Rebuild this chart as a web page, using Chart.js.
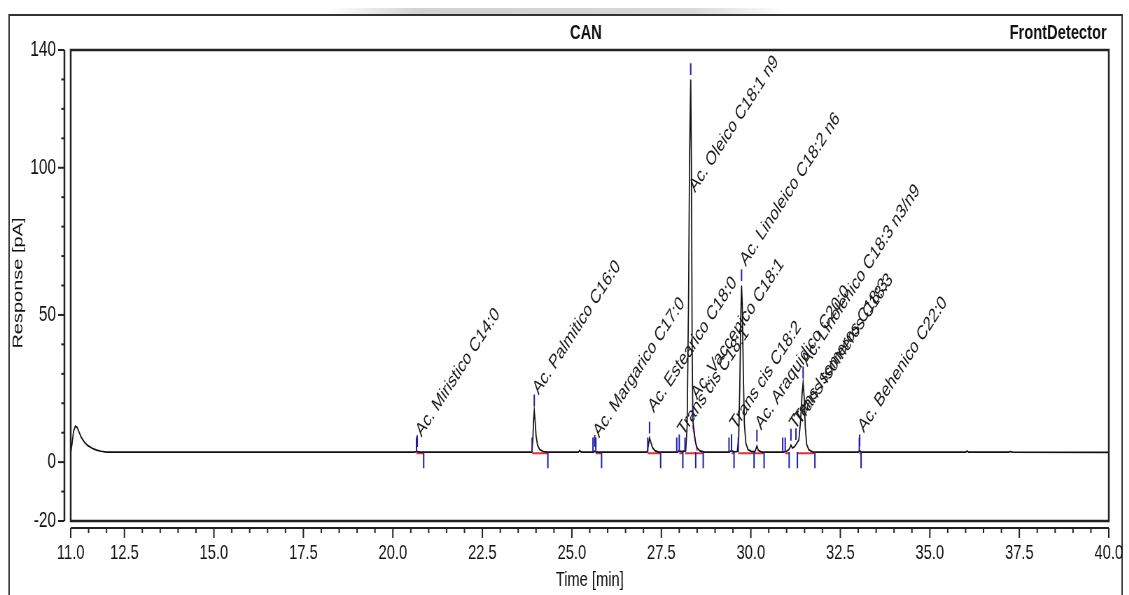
<!DOCTYPE html>
<html>
<head>
<meta charset="utf-8">
<script src="https://cdn.jsdelivr.net/npm/chart.js@4/dist/chart.umd.min.js"></script>
<style>
  html, body { margin: 0; padding: 0; background: #fff; overflow: hidden; }
  /* the original screenshot is squeezed horizontally, so draw wide and squeeze */
  #wrap { width: 1650px; height: 595px; transform: scaleX(0.7); transform-origin: 0 0; }
</style>
</head>
<body>
<div id="wrap"><canvas id="chart"></canvas></div>
<script>
// chromatogram trace (time in min, response in pA)
const traceTime = [11.00, 11.04, 11.08, 11.13, 11.18, 11.24, 11.30, 11.38, 11.48, 11.60, 11.72, 11.85, 12.00,
  20.60, 20.68, 20.76, 23.88, 23.91, 23.93, 23.95, 23.97, 24.00, 24.04, 24.10, 24.20, 24.30,
  25.18, 25.22, 25.26, 25.60, 25.64, 25.68, 27.10, 27.14, 27.17, 27.20, 27.25, 27.32, 27.42,
  27.95, 28.00, 28.05, 28.18, 28.22, 28.26, 28.29, 28.32, 28.34, 28.36, 28.38, 28.41, 28.45, 28.50, 28.58, 28.70,
  29.40, 29.46, 29.52, 29.62, 29.66, 29.69, 29.72, 29.74, 29.76, 29.79, 29.82, 29.86, 29.92, 30.02,
  30.12, 30.17, 30.21, 30.30, 30.90, 31.00, 31.08, 31.12, 31.16, 31.22, 31.26, 31.34, 31.39, 31.43, 31.46,
  31.49, 31.52, 31.56, 31.62, 31.72, 31.85, 33.00, 33.04, 33.08, 36.00, 36.04, 36.08, 37.20, 37.25, 37.30, 40.00];
const traceResp = [3.2, 6.5, 10.5, 12.2, 11.8, 10.0, 8.3, 6.8, 5.6, 4.7, 4.1, 3.7, 3.4,
  3.4, 3.6, 3.4, 3.4, 7.5, 14.0, 17.5, 14.5, 9.0, 5.8, 4.3, 3.6, 3.4,
  3.4, 3.9, 3.4, 3.4, 3.7, 3.4, 3.4, 6.0, 8.2, 7.0, 5.0, 3.9, 3.4,
  3.4, 3.9, 3.6, 3.8, 12, 55, 105, 130, 100, 40, 14, 11, 7, 4.8, 3.8, 3.4,
  3.4, 4.0, 3.5, 3.6, 8, 25, 50, 60, 54, 30, 13, 6.5, 4.3, 3.6,
  3.7, 5.5, 4.0, 3.4, 3.4, 3.7, 4.5, 5.8, 4.8, 5.2, 6.0, 7.5, 14, 23, 27,
  22, 12, 6, 4.2, 3.5, 3.4, 3.4, 3.9, 3.4, 3.4, 3.8, 3.4, 3.4, 3.6, 3.4, 3.3];

// identified peaks
const peakNames = ['Ac. Miristico C14:0', 'Ac. Palmitico C16:0', 'Ac. Margarico C17:0', 'Ac. Estearico C18:0',
  'Trans cis C18:1', 'Ac. Oleico C18:1 n9', 'Ac. Vaccenico C18:1', 'Trans cis C18:2', 'Ac. Linoleico C18:2 n6',
  'Ac. Araquidico C20:0', 'Trans Isomeros C18:3', 'Trans Isomeros C18:3', 'Ac. Linolenico C18:3 n3/n9', 'Ac. Behenico C22:0'];
const peakTime = [20.68, 23.95, 25.64, 27.17, 28.00, 28.32, 28.38, 29.46, 29.74, 30.17, 31.12, 31.26, 31.46, 33.04];
const peakResp = [3.6, 17.5, 3.7, 8.2, 3.9, 130, 13.8, 4.0, 60, 5.5, 5.8, 6.0, 27, 3.9];
const labelResp = [8.3, 22.6, 8.0, 16.5, 8.7, 91.3, 20.9, 10.7, 66.3, 10.7, 10.7, 12.4, 32.2, 9.7];

// peak delimiters and baselines
const baseLevel = 3.4;
const upMarks = [20.66, 23.89, 25.59, 25.67, 27.12, 27.93, 28.00, 28.16, 29.39, 29.46, 29.65, 30.89, 30.96, 33.03];
const downMarks = [20.86, 24.33, 25.83, 27.48, 28.10, 28.46, 28.67, 29.53, 30.09, 30.37, 31.07, 31.30, 31.79, 33.08];
const baseFrom = [20.66, 23.89, 25.67, 27.12, 28.00, 28.16, 29.46, 29.65, 30.09, 30.96, 31.30, 33.03];
const baseTo = [20.86, 24.33, 25.83, 27.48, 28.10, 28.67, 29.53, 30.09, 30.37, 31.07, 31.79, 33.08];
const skimTime = [28.37, 28.50];
const skimResp = [12.5, 3.8];

// axis labels
const xLabelTicks = [11.0, 12.5, 15.0, 17.5, 20.0, 22.5, 25.0, 27.5, 30.0, 32.5, 35.0, 37.5, 40.0];
const yLabelTicks = [140, 100, 50, 0, -20];

const FONT = "'Liberation Sans', Arial, sans-serif";
Chart.defaults.font.family = FONT;
Chart.defaults.color = '#111';

const xy = (xs, ys) => xs.map((x, i) => ({ x: x, y: ys[i] }));

function marks(times, from, to) {
    const pts = [];
    times.forEach((t, i) => {
        const a = typeof from === 'function' ? from(i) : from;
        const b = typeof to === 'function' ? to(i) : to;
        pts.push({ x: t, y: a }, { x: t, y: b }, { x: t, y: null });
    });
    return pts;
}

function segments(froms, tos, level) {
    const pts = [];
    froms.forEach((f, i) => {
        pts.push({ x: f, y: level }, { x: tos[i], y: level }, { x: tos[i], y: null });
    });
    return pts;
}

const framePlugin = {
    id: 'frame',
    beforeDraw(chart) {
        const { ctx, width, height } = chart;
        ctx.save();
        ctx.fillStyle = '#fff';
        ctx.fillRect(0, 0, width, height);
        // faint grey strip above the frame
        const g = ctx.createLinearGradient(470, 0, 1120, 0);
        g.addColorStop(0, 'rgba(190,190,190,0)');
        g.addColorStop(0.2, 'rgba(190,190,190,0.7)');
        g.addColorStop(0.8, 'rgba(200,200,200,0.7)');
        g.addColorStop(1, 'rgba(200,200,200,0)');
        ctx.fillStyle = g;
        ctx.fillRect(470, 8, 650, 7);
        // outer frame
        ctx.strokeStyle = '#333';
        ctx.lineWidth = 2;
        ctx.strokeRect(13, 15, 1590, height + 20);
        ctx.restore();
    },
    afterDraw(chart) {
        const { ctx, chartArea: a, scales } = chart;
        const xs = scales.x, ys = scales.y;
        ctx.save();

        // peak names
        ctx.fillStyle = '#1a1a1a';
        ctx.font = '20px ' + FONT;
        ctx.textAlign = 'left';
        ctx.textBaseline = 'alphabetic';
        peakNames.forEach((name, i) => {
            const px = xs.getPixelForValue(peakTime[i]) + 6;
            const py = ys.getPixelForValue(labelResp[i]);
            ctx.save();
            ctx.translate(px, py);
            ctx.rotate(-47.5 * Math.PI / 180);
            ctx.fillText(name, 0, 0);
            ctx.restore();
        });

        // plot frame
        ctx.strokeStyle = '#222';
        ctx.lineWidth = 2.5;
        ctx.strokeRect(a.left, a.top, a.right - a.left, a.bottom - a.top);

        // y axis
        const yx = a.left - 9;
        ctx.lineWidth = 2.5;
        ctx.beginPath();
        ctx.moveTo(yx, a.top);
        ctx.lineTo(yx, a.bottom);
        ctx.stroke();
        ctx.lineWidth = 2;
        for (let v = -20; v <= 140; v += 10) {
            const py = ys.getPixelForValue(v);
            const len = yLabelTicks.includes(v) ? 9 : 4.5;
            ctx.beginPath();
            ctx.moveTo(yx, py);
            ctx.lineTo(yx - len, py);
            ctx.stroke();
        }

        // x axis
        const xyPos = a.bottom + 7;
        ctx.lineWidth = 2;
        ctx.beginPath();
        ctx.moveTo(a.left, xyPos);
        ctx.lineTo(a.right, xyPos);
        ctx.stroke();
        for (let t = 11; t <= 40.001; t += 0.5) {
            const px = xs.getPixelForValue(t);
            const len = xLabelTicks.some(v => Math.abs(v - t) < 1e-6) ? 10 : 5;
            ctx.beginPath();
            ctx.moveTo(px, xyPos);
            ctx.lineTo(px, xyPos + len);
            ctx.stroke();
        }

        // titles
        ctx.fillStyle = '#111';
        ctx.font = 'bold 21px ' + FONT;
        ctx.textBaseline = 'middle';
        ctx.textAlign = 'center';
        ctx.fillText('CAN', 837, 33);
        ctx.textAlign = 'right';
        ctx.fillText('FrontDetector', 1581, 33);

        ctx.font = '21px ' + FONT;
        ctx.textAlign = 'center';
        ctx.fillText('Time [min]', (a.left + a.right) / 2, 580);

        ctx.save();
        ctx.translate(26, 283);
        ctx.rotate(-Math.PI / 2);
        ctx.font = '20px ' + FONT;
        ctx.fillText('Response [pA]', 0, 0);
        ctx.restore();

        ctx.restore();
    }
};

new Chart(document.getElementById('chart'), {
    type: 'line',
    data: {
        datasets: [
            {
                data: marks(upMarks, baseLevel, baseLevel + 5)
                    .concat(marks(downMarks, baseLevel, baseLevel - 5.5))
                    .concat(marks(peakTime, i => peakResp[i] + 1.5, i => peakResp[i] + 5.5)),
                borderColor: '#1f1fa6',
                borderWidth: 2,
                order: 1
            },
            {
                data: xy(traceTime, traceResp),
                borderColor: '#111',
                borderWidth: 1.7,
                order: 2
            },
            {
                data: xy(skimTime, skimResp),
                borderColor: '#d02ad0',
                borderWidth: 1.6,
                order: 3
            },
            {
                data: segments(baseFrom, baseTo, baseLevel - 0.35),
                borderColor: '#e23030',
                borderWidth: 2,
                order: 4
            }
        ]
    },
    options: {
        responsive: true,
        maintainAspectRatio: false,
        animation: false,
        spanGaps: false,
        layout: { padding: { left: 0, right: 66, top: 50, bottom: 0 } },
        plugins: { legend: { display: false }, tooltip: { enabled: false } },
        elements: { point: { radius: 0 }, line: { tension: 0, fill: false } },
        scales: {
            x: {
                type: 'linear',
                min: 11,
                max: 40,
                afterFit: s => { s.height = 74; s.paddingLeft = 0; s.paddingRight = 0; },
                afterBuildTicks: s => { s.ticks = xLabelTicks.map(v => ({ value: v })); },
                grid: { display: false, drawTicks: false },
                border: { display: false },
                ticks: {
                    autoSkip: false,
                    maxRotation: 0,
                    padding: 20,
                    color: '#111',
                    font: { size: 21 },
                    callback: v => Number(v).toFixed(1)
                }
            },
            y: {
                type: 'linear',
                min: -20,
                max: 140,
                afterFit: s => { s.width = 101; s.paddingTop = 0; s.paddingBottom = 0; },
                afterBuildTicks: s => { s.ticks = yLabelTicks.map(v => ({ value: v })); },
                grid: { display: false, drawTicks: false },
                border: { display: false },
                ticks: {
                    autoSkip: false,
                    padding: 21,
                    color: '#111',
                    font: { size: 22 },
                    callback: v => String(v)
                }
            }
        }
    },
    plugins: [framePlugin]
});
</script>
</body>
</html>
